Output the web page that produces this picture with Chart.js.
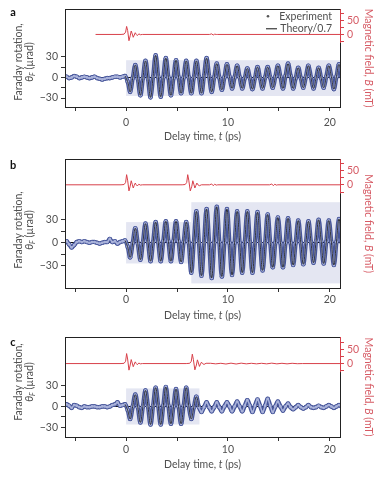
<!DOCTYPE html>
<html>
<head>
<meta charset="utf-8">
<script src="https://cdn.jsdelivr.net/npm/chart.js@4.4.1/dist/chart.umd.min.js"></script>
<style>
  html, body { margin: 0; padding: 0; background: #fff; }
  #fig { position: relative; width: 391px; height: 478px; }
  canvas { position: absolute; left: 0; }
</style>
</head>
<body>
<div id="fig">
  <canvas id="panelA" width="391" height="150" style="top:0px"></canvas>
  <canvas id="panelB" width="391" height="176" style="top:150px"></canvas>
  <canvas id="panelC" width="391" height="158" style="top:320px"></canvas>
</div>
<script>
const delayTimes = [
  -6.1, -5.85, -5.6, -5.35, -5.1, -4.85, -4.6, -4.35, -4.1, -3.85, -3.6, -3.35,
  -3.1, -2.85, -2.6, -2.35, -2.1, -1.85, -1.6, -1.35, -1.1, -0.85, -0.6, -0.35, -0.1,
  0.15, 0.4, 0.65, 0.9, 1.15, 1.4, 1.65, 1.9, 2.15, 2.4, 2.65, 2.9,
  3.15, 3.4, 3.65, 3.9, 4.15, 4.4, 4.65, 4.9, 5.15, 5.4, 5.65, 5.9,
  6.15, 6.4, 6.65, 6.9, 7.15, 7.4, 7.65, 7.9, 8.15, 8.4, 8.65, 8.9,
  9.15, 9.4, 9.65, 9.9, 10.15, 10.4, 10.65, 10.9, 11.15, 11.4, 11.65, 11.9,
  12.15, 12.4, 12.65, 12.9, 13.15, 13.4, 13.65, 13.9, 14.15, 14.4, 14.65, 14.9,
  15.15, 15.4, 15.65, 15.9, 16.15, 16.4, 16.65, 16.9, 17.15, 17.4, 17.65, 17.9,
  18.15, 18.4, 18.65, 18.9, 19.15, 19.4, 19.65, 19.9, 20.15, 20.4, 20.65, 20.9,
  21.15
];

// Faraday rotation (µrad), panel a
const faradayA = [
  2, 1, -1, 0, 2, 1, -1, 0, 1, 0, -1, 0,
  1, -1, -2, -3, -2, -1, -1, 0, 1, 1, 0, 1, 2,
  -6, -21, -1, 18,   -2, -26, -1, 24,   -2, -29, 1, 32,
  1, -28, 0, 28,     0, -26, -1, 25,    0, -23, 0, 24,
  0, -23, 0, 24,     1, -23, 2, 28,     2, -21, 0, 20,
  0, -18, 0, 19,     1, -16, 0, 17,     0, -16, -1, 13,
  -1, -17, -1, 15,   -1, -16, 0, 15,    0, -15, 1, 17,
  1, -16, 2, 20,     2, -16, -1, 14,    -1, -15, 1, 17,
  0, -16, -1, 14,    -1, -15, 1, 17,    1, -17, 1, 19,
  1
];
// panel b (second pulse at ~6.4 ps amplifies the oscillation)
const faradayB = [
  1, 2, -2, -6, -3, 1, 2, 1, 2, 1, 0, 1,
  1, 0, -1, 0, 1, 1, 5, 1, 2, -1, 1, 2, 3,
  -5, -19, 0, 19,    -1, -22, 1, 25,    1, -24, 1, 27,
  1, -24, 2, 28,     2, -24, 2, 28,     2, -25, 1, 27,
  0, -39, 1, 41,     0, -43, 0, 44,     1, -46, 0, 47,
  1, -44, 0, 44,     0, -42, 0, 41,     0, -39, 1, 41,
  1, -39, 0, 40,     0, -36, 0, 37,     0, -32, 0, 33,
  0, -32, 0, 32,     0, -29, 0, 29,     0, -28, 0, 28,
  1, -26, 2, 30,     2, -27, 1, 29,     1, -29, 1, 31,
  1
];
// panel c (second pulse at ~6.5 ps switches the oscillation off)
const faradayC = [
  1, 3, 1, -2, 2, 1, -1, -2, 0, -1, -1, 0,
  0, -1, -1, 0, 0, -1, 0, 2, 3, 6, 1, 2, 3,
  -5, -18, 0, 17,    -1, -23, 0, 23,    0, -26, 1, 27,
  1, -26, 1, 28,     1, -25, 0, 25,     0, -25, 1, 27,
  1, -18, -1, 14,    -1, -8, -1, 6,     -1, -7, -1, 6,
  -1, -7, 0, 6,      0, -7, 0, 7,       0, -7, 1, 9,
  1, -8, 1, 10,      1, -8, 1, 11,      1, -8, 0, 7,
  0, -6, 0, 4,       -1, -4, -1, 2,     -1, -3, -1, 2,
  -1, -2, -1, 1,     -1, -2, 0, 2,      0, -2, 0, 2,
  0
];

// Magnetic field of the THz pulses (mT)
const fieldTimesA = [-3, -0.5, -0.2, -0.05, 0.05, 0.15, 0.28, 0.4, 0.5, 0.6, 0.7, 0.8, 0.9, 1.0, 1.1, 1.25, 1.4, 1.6,
  8.2, 8.4, 8.55, 8.7, 8.85, 9.0, 21];
const fieldA = [0, 0, 1, 8, 28, 14, -22, -5, 12, 2, -10, -2, 6, 0, -4, 2, -1, 0,
  0, 2, -2, 1, 0, 0, 0];

const fieldTimesB = [-6, -0.5, -0.2, -0.05, 0.05, 0.15, 0.28, 0.4, 0.5, 0.6, 0.7, 0.8, 0.9, 1.0, 1.1, 1.25, 1.4, 1.6,
  5.5, 5.8, 5.95, 6.05, 6.15, 6.3, 6.45, 6.55, 6.65, 6.75, 6.85, 6.95, 7.05, 7.2, 7.4,
  8.2, 8.4, 8.55, 8.7, 8.85, 9.0, 14.1, 14.3, 14.45, 14.6, 14.75, 14.9, 21];
const fieldB = [0, 0, 1, 8, 35, 16, -21, -5, 14, 2, -11, -2, 6, 0, -4, 2, -1, 0,
  0, 1, 8, 35, 16, -21, -5, 14, 2, -11, -2, 6, 0, -3, 0,
  0, 3, -3, 2, -1, 0, 0, 3, -3, 2, -1, 0, 0];

const fieldTimesC = [-6, -0.5, -0.2, -0.05, 0.05, 0.15, 0.28, 0.4, 0.5, 0.6, 0.7, 0.8, 0.9, 1.0, 1.1, 1.25, 1.4, 1.6,
  5.9, 6.25, 6.4, 6.5, 6.6, 6.75, 6.9, 7.0, 7.1, 7.2, 7.3, 7.4, 7.5, 7.65, 7.85,
  8.3, 8.8, 9.3, 9.8, 10.3, 10.8, 11.3, 11.8, 12.3, 12.8, 13.3, 13.8, 14.3, 14.8, 15.3, 15.8, 16.3, 16.8, 17.3, 21];
const fieldC = [0, 0, 1, 8, 35, 16, -23, -5, 14, 2, -11, -2, 6, 0, -4, 2, -1, 0,
  0, 1, 8, 33, 15, -22, -5, 13, 2, -10, -2, 5, 0, -3, 1,
  1, -1, 1, -1.5, 1.5, -1.5, 1.5, -1, 1, -1, 1, -1, 1.5, -1, 1, -1, 1, -0.5, 0, 0];

// Shaded regions: [t start, t end, low, high] in µrad
const shadeA = [[0, 21, -27, 25]];
const shadeB = [[0, 6.4, -27, 27], [6.4, 21, -53, 53]];
const shadeC = [[0, 7.2, -26, 26]];

// Axis ticks and labels
const timeTicks = [-5, 0, 5, 10, 15, 20];
const timeLabels = [0, 10, 20];
const faradayTicks = [-30, -15, 0, 15, 30];
const faradayLabels = [-30, 0, 30];
const fieldTicks = [-25, 0, 25, 50, 75];
const fieldLabels = [0, 50];

const FF = 'Lato, "Open Sans", sans-serif';
const FS = 10.5;
const INK = '#505050';
const RED = '#d8404a';
const RED_TEXT = '#d65a64';
const BLUE_DARK = '#47569a';
const BLUE_LIGHT = '#a9b2da';
const SHADE = '#e4e6f2';

const minus = v => (v < 0 ? '\u2212' + (-v) : String(v));

// draw a row of text pieces (mixed fonts) centred at x, y
function drawRuns(ctx, runs, x, y, angle, color) {
  ctx.save();
  ctx.translate(x, y);
  ctx.rotate(angle);
  ctx.fillStyle = color;
  ctx.textBaseline = 'middle';
  ctx.textAlign = 'left';
  let total = 0;
  runs.forEach(r => { ctx.font = r.font; r.w = ctx.measureText(r.text).width; total += r.w; });
  let cx = -total / 2;
  runs.forEach(r => { ctx.font = r.font; ctx.fillText(r.text, cx, r.dy || 0); cx += r.w; });
  ctx.restore();
}

function buildPanel(p) {
  const pts = (ts, vs) => ts.map((t, i) => ({ x: t, y: vs[i] }));
  const normal = FS + 'px ' + FF;
  const italic = 'italic ' + FS + 'px ' + FF;

  const decor = {
    id: 'decor',
    beforeDraw(chart) {
      const { ctx, scales: { x, y } } = chart;
      ctx.save();
      ctx.fillStyle = SHADE;
      p.shade.forEach(([t0, t1, lo, hi]) => {
        const l = x.getPixelForValue(t0), r = x.getPixelForValue(Math.min(t1, x.max));
        const top = y.getPixelForValue(hi), bot = y.getPixelForValue(lo);
        ctx.fillRect(l, top, r - l, bot - top);
      });
      ctx.restore();
    },
    afterDraw(chart) {
      const { ctx, chartArea: a, scales: { y2 } } = chart;
      ctx.save();
      // frame
      ctx.strokeStyle = '#222';
      ctx.lineWidth = 1;
      ctx.strokeRect(Math.round(a.left) + 0.5, Math.round(a.top) + 0.5,
        Math.round(a.right - a.left), Math.round(a.bottom - a.top));
      // red spine of the field axis (upper part only)
      ctx.strokeStyle = RED;
      ctx.beginPath();
      ctx.moveTo(Math.round(a.right) + 0.5, a.top);
      ctx.lineTo(Math.round(a.right) + 0.5, y2.getPixelForValue(-30));
      ctx.stroke();
      ctx.restore();

      const midY = (a.top + a.bottom) / 2;
      drawRuns(ctx, [{ text: 'Faraday rotation,', font: normal }], 19, p.leftTitleY, -Math.PI / 2, INK);
      drawRuns(ctx, [
        { text: '\u03B8', font: italic },
        { text: 'F', font: 'italic 7px ' + FF, dy: 3 },
        { text: ' (\u00B5rad)', font: normal }
      ], 30, p.leftTitleY, -Math.PI / 2, INK);
      drawRuns(ctx, [
        { text: 'Magnetic field, ', font: normal },
        { text: 'B', font: italic },
        { text: ' (mT)', font: normal }
      ], 368, midY, Math.PI / 2, RED_TEXT);
      drawRuns(ctx, [
        { text: 'Delay time, ', font: normal },
        { text: 't', font: italic },
        { text: ' (ps)', font: normal }
      ], (a.left + a.right) / 2, a.bottom + p.xTitleDy, 0, INK);
      drawRuns(ctx, [{ text: p.letter, font: 'bold 11px ' + FF }], 13, p.letterY, 0, '#111');

      if (p.legend) {
        ctx.save();
        ctx.fillStyle = '#555';
        ctx.beginPath();
        ctx.arc(a.right - 72, a.top + 7, 1.3, 0, Math.PI * 2);
        ctx.fill();
        ctx.strokeStyle = '#111';
        ctx.beginPath();
        ctx.moveTo(a.right - 74, a.top + 19.5);
        ctx.lineTo(a.right - 63, a.top + 19.5);
        ctx.stroke();
        ctx.fillStyle = INK;
        ctx.font = normal;
        ctx.textAlign = 'right';
        ctx.textBaseline = 'middle';
        ctx.fillText('Experiment', a.right - 8, a.top + 7);
        ctx.fillText('Theory/0.7', a.right - 8, a.top + 19.5);
        ctx.restore();
      }
    }
  };

  return new Chart(document.getElementById(p.id), {
    type: 'line',
    data: {
      datasets: [
        {
          label: 'Theory/0.7',
          data: pts(p.theoryTimes, p.theory),
          borderColor: '#151515', borderWidth: 0.8, pointRadius: 0, tension: 0.4,
          yAxisID: 'y', order: 0
        },
        {
          // light core of the experimental trace (same points)
          label: 'Experiment core',
          data: pts(delayTimes, p.experiment),
          borderColor: BLUE_LIGHT, borderWidth: 1.6, tension: 0.4,
          pointRadius: 1.4, pointBackgroundColor: BLUE_LIGHT, pointBorderWidth: 0,
          yAxisID: 'y', order: 1
        },
        {
          label: 'Experiment',
          data: pts(delayTimes, p.experiment),
          borderColor: BLUE_DARK, borderWidth: 4.2, tension: 0.4,
          pointRadius: 2.3, pointBackgroundColor: BLUE_DARK, pointBorderWidth: 0,
          yAxisID: 'y', order: 2
        },
        {
          label: 'Magnetic field',
          data: pts(p.fieldTimes, p.field),
          borderColor: RED, borderWidth: 1, pointRadius: 0, tension: 0,
          yAxisID: 'y2', order: 3
        }
      ]
    },
    options: {
      responsive: false,
      animation: false,
      events: [],
      layout: { padding: { top: p.padTop, left: 0, right: 0, bottom: 0 } },
      plugins: { legend: { display: false }, tooltip: { enabled: false } },
      scales: {
        x: {
          type: 'linear', min: -6, max: 21,
          afterFit: s => { s.height = p.xAxisH; },
          afterBuildTicks: s => { s.ticks = timeTicks.map(v => ({ value: v })); },
          ticks: {
            callback: v => (timeLabels.includes(v) ? String(v) : ''),
            font: { family: FF, size: FS }, color: INK, padding: p.xPad,
            maxRotation: 0, autoSkip: false
          },
          grid: { drawOnChartArea: false, tickLength: 4, tickColor: '#333' },
          border: { display: false }
        },
        y: {
          position: 'left', min: p.yMin, max: p.yMax,
          afterFit: s => { s.width = 65; },
          afterBuildTicks: s => { s.ticks = faradayTicks.map(v => ({ value: v })); },
          ticks: {
            callback: v => (faradayLabels.includes(v) ? minus(v) : ''),
            font: { family: FF, size: FS }, color: INK, padding: 3
          },
          grid: {
            color: c => (c.tick && c.tick.value === 0 ? '#111' : 'rgba(0,0,0,0)'),
            tickColor: '#333', tickLength: 4, lineWidth: 1
          },
          border: { display: false }
        },
        y2: {
          position: 'right', min: p.y2Min, max: p.y2Max,
          afterFit: s => { s.width = 51; },
          afterBuildTicks: s => { s.ticks = fieldTicks.map(v => ({ value: v })); },
          ticks: {
            callback: v => (fieldLabels.includes(v) ? String(v) : ''),
            font: { family: FF, size: FS }, color: RED_TEXT, padding: 3
          },
          grid: { drawOnChartArea: false, tickColor: RED, tickLength: 4 },
          border: { display: false }
        }
      }
    },
    plugins: [decor]
  });
}

buildPanel({
  id: 'panelA', letter: 'a', legend: true,
  experiment: faradayA, theory: faradayA.slice(24), theoryTimes: delayTimes.slice(24),
  fieldTimes: fieldTimesA, field: fieldA, shade: shadeA,
  yMin: -43, yMax: 99, y2Min: -254, y2Max: 88,
  padTop: 9, xAxisH: 43, xPad: 5, xTitleDy: 29.5, leftTitleY: 62, letterY: 12
});
buildPanel({
  id: 'panelB', letter: 'b', legend: false,
  experiment: faradayB, theory: faradayB.slice(24), theoryTimes: delayTimes.slice(24),
  fieldTimes: fieldTimesB, field: fieldB, shade: shadeB,
  yMin: -59, yMax: 109, y2Min: -356, y2Max: 88,
  padTop: 7, xAxisH: 38, xPad: 1, xTitleDy: 28, leftTitleY: 80, letterY: 15
});
buildPanel({
  id: 'panelC', letter: 'c', legend: false,
  experiment: faradayC, theory: faradayC.slice(24, 54), theoryTimes: delayTimes.slice(24, 54),
  fieldTimes: fieldTimesC, field: fieldC, shade: shadeC,
  yMin: -44, yMax: 100, y2Min: -257, y2Max: 93,
  padTop: 17, xAxisH: 41, xPad: 2, xTitleDy: 27.5, leftTitleY: 62, letterY: 22
});
</script>
</body>
</html>
